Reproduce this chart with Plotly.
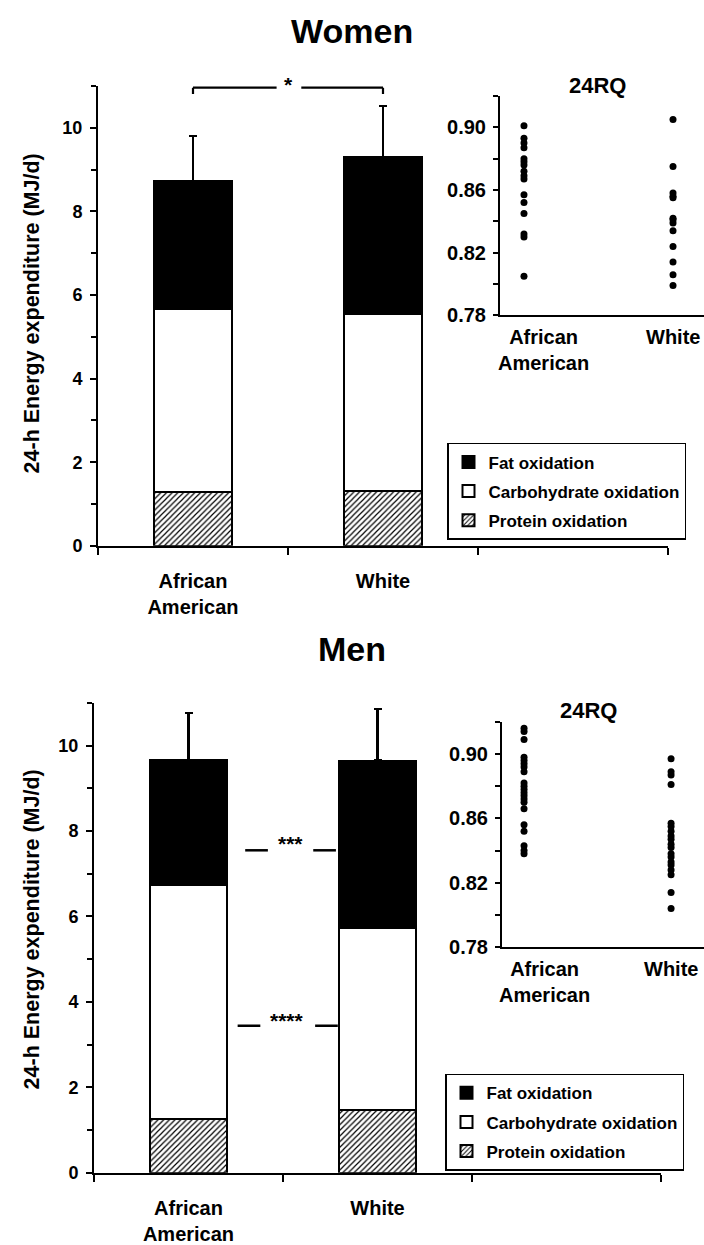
import plotly.graph_objects as go

W, H = 704, 1245
FONT = "Liberation Sans, Arial, Helvetica, sans-serif"

# ---------------- data ----------------
groups = ["African<br>American", "White"]
rq_groups = ["African American", "White"]
legend_names = ["Protein oxidation", "Carbohydrate oxidation", "Fat oxidation"]

women_protein = [1.28, 1.31]
women_carb = [4.38, 4.24]
women_fat = [3.06, 3.75]
women_sd = [1.09, 1.22]

men_protein = [1.26, 1.47]
men_carb = [5.48, 4.27]
men_fat = [2.92, 3.91]
men_sd = [1.11, 1.21]

women_rq_aa = [0.901, 0.893, 0.890, 0.887, 0.880, 0.878, 0.876, 0.872, 0.869,
               0.867, 0.857, 0.852, 0.845, 0.832, 0.830, 0.805]
women_rq_w = [0.905, 0.875, 0.858, 0.856, 0.855, 0.842, 0.841, 0.839, 0.834,
              0.824, 0.814, 0.806, 0.799]
men_rq_aa = [0.916, 0.914, 0.909, 0.898, 0.896, 0.894, 0.892, 0.889, 0.882,
             0.880, 0.878, 0.876, 0.874, 0.872, 0.870, 0.866, 0.856, 0.852,
             0.843, 0.840, 0.838]
men_rq_w = [0.897, 0.889, 0.887, 0.881, 0.857, 0.855, 0.852, 0.849, 0.847,
            0.844, 0.842, 0.838, 0.836, 0.833, 0.831, 0.828, 0.825, 0.814, 0.804]

y_ticks = [0, 2, 4, 6, 8, 10]
rq_ticks = [0.78, 0.82, 0.86, 0.90]


def yp(px):
    return 1 - px / H


def xp(px):
    return px / W


fig = go.Figure()
xpos = list(range(len(groups)))


def add_bars(prot, carb, fat, sd, xa, ya, leg):
    styles = [
        dict(color="white", pattern=dict(shape="/", size=4, solidity=0.3,
                                         fgcolor="black", bgcolor="white",
                                         fillmode="replace")),
        dict(color="white"),
        dict(color="black"),
    ]
    vals = [prot, carb, fat]
    for i, (name, v, st) in enumerate(zip(legend_names, vals, styles)):
        marker = dict(line=dict(color="black", width=2), **st)
        kw = {}
        if i == 2:
            kw["error_y"] = dict(type="data", array=sd, arrayminus=[0] * len(sd),
                                 symmetric=False, color="black", thickness=2.5,
                                 width=4)
        fig.add_trace(go.Bar(x=xpos, y=v, name=name, marker=marker, width=0.41,
                             xaxis=xa, yaxis=ya, legend=leg, showlegend=True,
                             legendgroup=leg + name, legendrank=3 - i, **kw))


add_bars(women_protein, women_carb, women_fat, women_sd, "x", "y", "legend")
add_bars(men_protein, men_carb, men_fat, men_sd, "x3", "y3", "legend2")


def add_rq(aa, w, xa, ya):
    for grp, vals in zip(rq_groups, [aa, w]):
        fig.add_trace(go.Scatter(x=[grp] * len(vals), y=vals, mode="markers",
                                 marker=dict(color="black", size=7),
                                 xaxis=xa, yaxis=ya, showlegend=False))


add_rq(women_rq_aa, women_rq_w, "x2", "y2")
add_rq(men_rq_aa, men_rq_w, "x4", "y4")

tickfont = dict(family=FONT, size=18, color="black", weight="bold")
catfont = dict(family=FONT, size=20, color="black", weight="bold")


def main_x(dom):
    return dict(domain=dom, range=[-0.5, 2.5], tickvals=xpos, ticktext=groups,
                ticks="", tickfont=catfont, ticklabelstandoff=16,
                showline=True, linecolor="black", linewidth=2,
                showgrid=False, zeroline=False, fixedrange=True,
                minor=dict(tick0=-0.5, dtick=1, ticks="outside", ticklen=7,
                           tickwidth=2, tickcolor="black", showgrid=False))


def main_y(dom):
    return dict(domain=dom, range=[0, 11], tickvals=y_ticks, ticks="outside",
                ticklen=6, tickwidth=2, tickcolor="black", tickfont=tickfont,
                showline=True, linecolor="black", linewidth=2, showgrid=False,
                zeroline=False, ticklabelstandoff=4,
                minor=dict(tick0=1, dtick=2, ticks="outside", ticklen=5,
                           tickwidth=2, tickcolor="black", showgrid=False))


def rq_x(dom, rng):
    return dict(domain=dom, range=rng, type="category",
                categoryorder="array", categoryarray=rq_groups,
                showticklabels=False, ticks="", showline=True,
                linecolor="black", linewidth=2, showgrid=False, zeroline=False)


def rq_y(dom):
    return dict(domain=dom, range=[0.78, 0.92], tickvals=rq_ticks,
                tickformat=".2f", ticks="outside", ticklen=5, tickwidth=2,
                tickcolor="black", tickfont=dict(family=FONT, size=20,
                                                 color="black", weight="bold"),
                showline=True, linecolor="black", linewidth=2, showgrid=False,
                zeroline=False, ticklabelstandoff=3,
                minor=dict(tickvals=[0.80, 0.84, 0.88, 0.92], ticks="outside",
                           ticklen=5, tickwidth=2, tickcolor="black",
                           showgrid=False))


legfont = dict(family=FONT, size=17, color="black", weight="bold")
fig.update_layout(
    width=W, height=H, autosize=False,
    margin=dict(l=0, r=0, t=0, b=0),
    paper_bgcolor="white", plot_bgcolor="white",
    barmode="stack", bargap=0,
    font=dict(family=FONT, color="black"),
    xaxis=main_x([xp(98), xp(668)]),
    yaxis=main_y([yp(552), yp(87)]),
    xaxis2=dict(rq_x([xp(500), 1], [-0.161, 1.208]), anchor="y2"),
    yaxis2=dict(rq_y([yp(319), yp(97)]), anchor="x2"),
    xaxis3=dict(main_x([xp(94), xp(661)]), anchor="y3"),
    yaxis3=dict(main_y([yp(1186), yp(711)]), anchor="x3"),
    xaxis4=dict(rq_x([xp(502), 1], [-0.150, 1.224]), anchor="y4"),
    yaxis4=dict(rq_y([yp(958), yp(730)]), anchor="x4"),
    legend=dict(x=xp(447), y=yp(448), xanchor="left", yanchor="top",
                traceorder="grouped", tracegroupgap=4,
                bordercolor="black", borderwidth=1.5, bgcolor="white",
                font=legfont),
    legend2=dict(x=xp(445), y=yp(1086), xanchor="left", yanchor="top",
                 traceorder="grouped", tracegroupgap=4,
                 bordercolor="black", borderwidth=1.5, bgcolor="white",
                 font=legfont),
)

ann = []
titlefont = dict(family=FONT, size=34, color="black", weight="bold")
ann.append(dict(text="Women", x=0.5, y=yp(31), xref="paper", yref="paper",
                showarrow=False, font=titlefont, xanchor="center", yanchor="middle"))
ann.append(dict(text="Men", x=0.5, y=yp(656), xref="paper", yref="paper",
                showarrow=False, font=titlefont, xanchor="center", yanchor="middle"))
ytitle = "24-h Energy expenditure (MJ/d)"
for cy in [317, 940]:
    ann.append(dict(text=ytitle, x=xp(32), y=yp(cy), xref="paper", yref="paper",
                    textangle=-90, showarrow=False, xanchor="center",
                    yanchor="middle",
                    font=dict(family=FONT, size=21.5, color="black", weight="bold")))
rqfont = dict(family=FONT, size=22, color="black", weight="bold")
ann.append(dict(text="24RQ", x=xp(597), y=yp(86), xref="paper", yref="paper",
                xanchor="center", yanchor="middle", showarrow=False, font=rqfont))
ann.append(dict(text="24RQ", x=xp(588), y=yp(719), xref="paper", yref="paper",
                xanchor="center", yanchor="middle", showarrow=False, font=rqfont))
# inset category labels
for xa, ytop in [("x2", 328), ("x4", 967)]:
    for i, lab in enumerate(groups):
        ann.append(dict(text=lab, x=i, y=yp(ytop), xref=xa, yref="paper",
                        xshift=20 if i == 0 else 0, xanchor="center",
                        yanchor="top", showarrow=False, font=catfont))
# significance marks
starfont = dict(family=FONT, size=21, color="black", weight="bold")
ann.append(dict(text="*", x=0.5, y=yp(85), xref="x", yref="paper",
                xanchor="center", yanchor="middle", showarrow=False,
                font=starfont))
ann.append(dict(text="***", x=0.54, y=7.55, xref="x3", yref="y3", yshift=7,
                xanchor="center", yanchor="middle", showarrow=False,
                font=starfont))
ann.append(dict(text="****", x=0.52, y=3.44, xref="x3", yref="y3", yshift=5,
                xanchor="center", yanchor="middle", showarrow=False,
                font=starfont))

shapes = []
ln = dict(color="black", width=2.2)
# bracket Women
bk = 10.96
for x0, x1 in [(0.0, 0.44), (0.57, 1.0)]:
    shapes.append(dict(type="line", x0=x0, x1=x1, y0=bk, y1=bk, xref="x",
                       yref="y", line=ln))
for xx in [0.0, 1.0]:
    shapes.append(dict(type="line", x0=xx, x1=xx, y0=bk, y1=bk - 0.15,
                       xref="x", yref="y", line=ln))
# dashes Men
for yv, segs in [(7.55, [(0.30, 0.42), (0.66, 0.78)]),
                 (3.44, [(0.26, 0.38), (0.67, 0.79)])]:
    for x0, x1 in segs:
        shapes.append(dict(type="line", x0=x0, x1=x1, y0=yv, y1=yv, xref="x3",
                           yref="y3", line=dict(color="black", width=2.5)))

fig.update_layout(annotations=ann, shapes=shapes)
fig.write_html("out.html", config={"displayModeBar": False},
               post_script="document.body.style.margin='0';"
                           "document.body.style.overflow='hidden';")
